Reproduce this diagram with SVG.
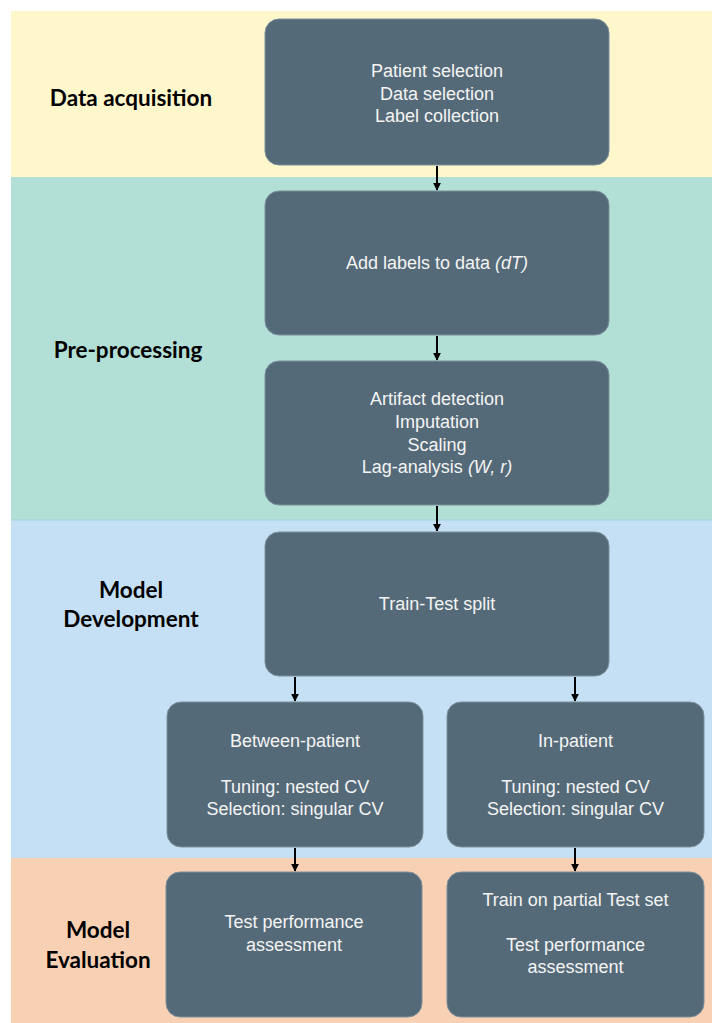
<svg xmlns="http://www.w3.org/2000/svg" width="712" height="1023" viewBox="0 0 712 1023">
<style>
.box{fill:#546a78;stroke:#7c909c;stroke-width:1}
.t{font-family:"Liberation Sans",Arial,sans-serif;font-size:18px;fill:#f4f4f4;text-anchor:middle}
.lab{font-family:Lato,"Open Sans",sans-serif;font-weight:bold;font-size:22.5px;fill:#000;text-anchor:middle}
.c{stroke:#000;stroke-width:2;fill:none;marker-end:url(#ah)}
</style>
<defs>
<marker id="ah" viewBox="0 0 10 10" refX="9" refY="5" markerWidth="4" markerHeight="4" orient="auto" markerUnits="strokeWidth">
<path d="M0,0 L10,5 L0,10 z" fill="#000"/>
</marker>
</defs>
<rect width="712" height="1023" fill="#fff"/>
<g id="bands">
<rect x="11" y="11" width="701" height="166" fill="#fff7cc"/>
<rect x="11" y="177" width="701" height="343" fill="#b2dfd6"/>
<rect x="11" y="520" width="701" height="338" fill="#c5e0f4"/>
<rect x="11" y="858" width="701" height="165" fill="#f8d0b4"/>
<line x1="11" y1="520" x2="712" y2="520" stroke="#9fd3da" stroke-width="1"/>
</g>
<g id="stage-labels">
<text class="lab" x="131" y="106">Data acquisition</text>
<text class="lab" x="128" y="358">Pre-processing</text>
<text class="lab" x="131" y="598">Model</text>
<text class="lab" x="131" y="627">Development</text>
<text class="lab" x="98" y="938">Model</text>
<text class="lab" x="98" y="968">Evaluation</text>
</g>
<g id="connectors">
<line class="c" x1="437" y1="166" x2="437" y2="190"/>
<line class="c" x1="437" y1="336" x2="437" y2="360"/>
<line class="c" x1="437" y1="506" x2="437" y2="531"/>
<line class="c" x1="295" y1="677" x2="295" y2="701"/>
<line class="c" x1="575" y1="677" x2="575" y2="701"/>
<line class="c" x1="295" y1="848" x2="295" y2="871"/>
<line class="c" x1="575" y1="848" x2="575" y2="871"/>
</g>
<g id="n1">
<rect class="box" x="265" y="19" width="344" height="146" rx="14"/>
<text class="t" x="437" y="77">Patient selection</text>
<text class="t" x="437" y="99.5">Data selection</text>
<text class="t" x="437" y="122">Label collection</text>
</g>
<g id="n2">
<rect class="box" x="265" y="191" width="344" height="144" rx="14"/>
<text class="t" x="437" y="269">Add labels to data <tspan font-style="italic">(dT)</tspan></text>
</g>
<g id="n3">
<rect class="box" x="265" y="361" width="344" height="144" rx="14"/>
<text class="t" x="437" y="405">Artifact detection</text>
<text class="t" x="437" y="428">Imputation</text>
<text class="t" x="437" y="451">Scaling</text>
<text class="t" x="437" y="473">Lag-analysis <tspan font-style="italic">(W, r)</tspan></text>
</g>
<g id="n4">
<rect class="box" x="265" y="532" width="344" height="144" rx="14"/>
<text class="t" x="437" y="610">Train-Test split</text>
</g>
<g id="n5">
<rect class="box" x="167" y="702" width="256" height="145" rx="14"/>
<text class="t" x="295" y="747">Between-patient</text>
<text class="t" x="295" y="793">Tuning: nested CV</text>
<text class="t" x="295" y="815">Selection: singular CV</text>
</g>
<g id="n6">
<rect class="box" x="447" y="702" width="257" height="145" rx="14"/>
<text class="t" x="575.5" y="747">In-patient</text>
<text class="t" x="575.5" y="793">Tuning: nested CV</text>
<text class="t" x="575.5" y="815">Selection: singular CV</text>
</g>
<g id="n7">
<rect class="box" x="166" y="872" width="256" height="145" rx="14"/>
<text class="t" x="294" y="928">Test performance</text>
<text class="t" x="294" y="951">assessment</text>
</g>
<g id="n8">
<rect class="box" x="447" y="872" width="257" height="145" rx="14"/>
<text class="t" x="575.5" y="906">Train on partial Test set</text>
<text class="t" x="575.5" y="951">Test performance</text>
<text class="t" x="575.5" y="973">assessment</text>
</g>
</svg>
